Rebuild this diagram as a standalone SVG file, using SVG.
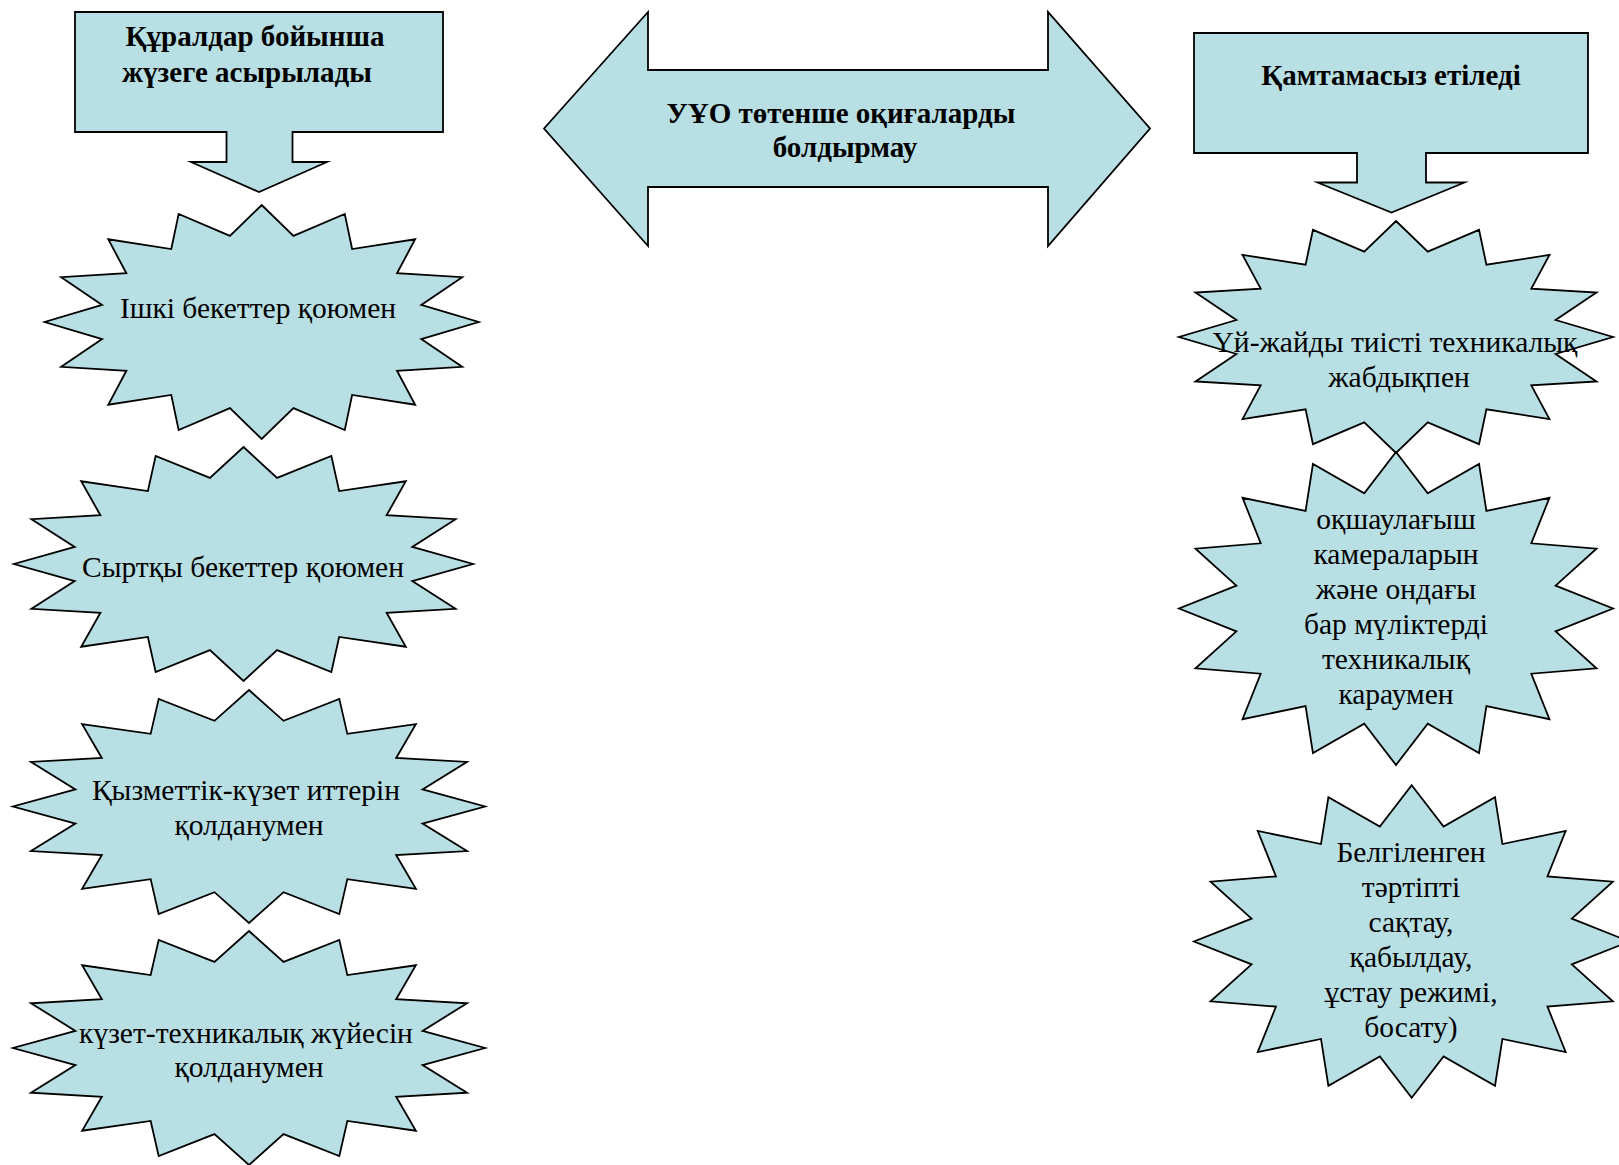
<svg xmlns="http://www.w3.org/2000/svg" xmlns:xlink="http://www.w3.org/1999/xlink" width="1619" height="1165" viewBox="0 0 1619 1165">
<style>
.shape{fill:#B8DFE3;stroke:#000;stroke-width:1.8;stroke-linejoin:miter;stroke-miterlimit:10}
.t{font-family:"Liberation Serif","Times New Roman",serif;font-size:29.5px;fill:#000;text-anchor:middle}
.b{font-weight:bold;font-size:29px}
</style>
<defs>
<polygon id="star16" vector-effect="non-scaling-stroke" style="vector-effect:non-scaling-stroke" points="0,-1 0.14632,-0.73559 0.38268,-0.92388 0.41668,-0.6236 0.70711,-0.70711 0.6236,-0.41668 0.92388,-0.38268 0.73559,-0.14632 1,0 0.73559,0.14632 0.92388,0.38268 0.6236,0.41668 0.70711,0.70711 0.41668,0.6236 0.38268,0.92388 0.14632,0.73559 0,1 -0.14632,0.73559 -0.38268,0.92388 -0.41668,0.6236 -0.70711,0.70711 -0.6236,0.41668 -0.92388,0.38268 -0.73559,0.14632 -1,0 -0.73559,-0.14632 -0.92388,-0.38268 -0.6236,-0.41668 -0.70711,-0.70711 -0.41668,-0.6236 -0.38268,-0.92388 -0.14632,-0.73559"/>
</defs>
<rect width="1619" height="1165" fill="#fff"/>

<g id="box-left">
<polygon class="shape" points="75,12 443,12 443,132 292.5,132 292.5,162 327,162 259,192 191,162 226.5,162 226.5,132 75,132"/>
<text class="t b" x="255" y="46">Құралдар бойынша</text>
<text class="t b" x="247" y="82">жүзеге асырылады</text>
</g>

<g id="double-arrow">
<polygon class="shape" points="544,128.5 648,12 648,70 1048,70 1048,12 1150,128.5 1048,246 1048,187 648,187 648,246"/>
<text class="t b" x="841" y="123">УҰО төтенше оқиғаларды</text>
<text class="t b" x="845" y="157">болдырмау</text>
</g>

<g id="box-right">
<polygon class="shape" points="1194,33 1588,33 1588,153 1426,153 1426,182.5 1464.5,182.5 1391.5,212.5 1317.5,182.5 1357,182.5 1357,153 1194,153"/>
<text class="t b" x="1391" y="85">Қамтамасыз етіледі</text>
</g>

<g id="star-l1">
<use xlink:href="#star16" href="#star16" class="shape" transform="translate(261.7,322) scale(217,117)"/>
<text class="t" x="258" y="318">Ішкі бекеттер қоюмен</text>
</g>

<g id="star-l2">
<use xlink:href="#star16" href="#star16" class="shape" transform="translate(243.5,564) scale(229.5,117)"/>
<text class="t" x="243" y="577">Сыртқы бекеттер қоюмен</text>
</g>

<g id="star-l3">
<use xlink:href="#star16" href="#star16" class="shape" transform="translate(249,806.5) scale(236,116.5)"/>
<text class="t" x="246" y="800">Қызметтік-күзет иттерін</text>
<text class="t" x="249" y="835">қолданумен</text>
</g>

<g id="star-l4">
<use xlink:href="#star16" href="#star16" class="shape" transform="translate(249,1048) scale(236,117)"/>
<text class="t" x="246" y="1043">күзет-техникалық жүйесін</text>
<text class="t" x="249" y="1077">қолданумен</text>
</g>

<g id="star-r1">
<use xlink:href="#star16" href="#star16" class="shape" transform="translate(1396,337) scale(217,116)"/>
<text class="t" x="1395" y="352">Үй-жайды тиісті техникалық</text>
<text class="t" x="1399" y="387">жабдықпен</text>
</g>

<g id="star-r2">
<use xlink:href="#star16" href="#star16" class="shape" transform="translate(1396,608.5) scale(217,156.5)"/>
<text class="t" x="1396" y="529">оқшаулағыш</text>
<text class="t" x="1396" y="564">камераларын</text>
<text class="t" x="1396" y="599">және ондағы</text>
<text class="t" x="1396" y="634">бар мүліктерді</text>
<text class="t" x="1396" y="669">техникалық</text>
<text class="t" x="1396" y="704">караумен</text>
</g>

<g id="star-r3">
<use xlink:href="#star16" href="#star16" class="shape" transform="translate(1411.7,941.5) scale(217.7,156.3)"/>
<text class="t" x="1411" y="862">Белгіленген</text>
<text class="t" x="1411" y="897">тәртіпті</text>
<text class="t" x="1411" y="932">сақтау,</text>
<text class="t" x="1411" y="967">қабылдау,</text>
<text class="t" x="1411" y="1002">ұстау режимі,</text>
<text class="t" x="1411" y="1037">босату)</text>
</g>

<g id="connectors"></g>
</svg>
